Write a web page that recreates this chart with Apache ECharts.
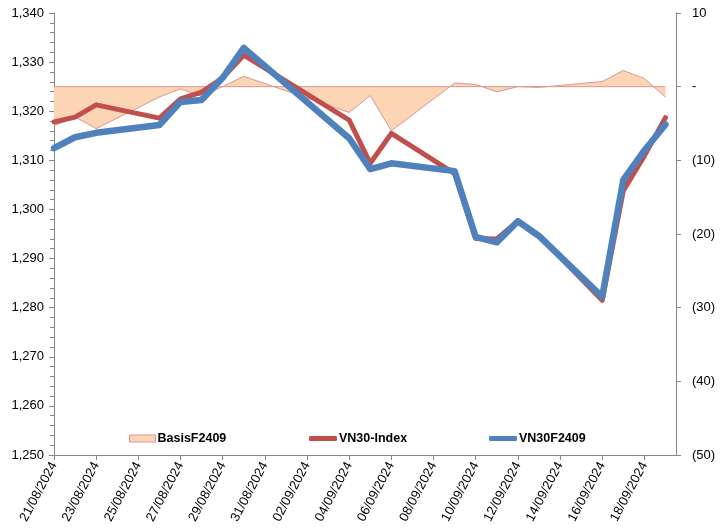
<!DOCTYPE html>
<html>
<head>
<meta charset="utf-8">
<script src="https://cdn.jsdelivr.net/npm/echarts@6/dist/echarts.min.js"></script>
<style>html,body{margin:0;padding:0;background:#fff}#c{width:724px;height:530px}</style>
</head>
<body>
<div id="c"></div>
<script>
var dates = ['21/08/2024','22/08/2024','23/08/2024','26/08/2024','27/08/2024','28/08/2024','29/08/2024','30/08/2024','04/09/2024','05/09/2024','06/09/2024','09/09/2024','10/09/2024','11/09/2024','12/09/2024','13/09/2024','16/09/2024','17/09/2024','18/09/2024','19/09/2024'];
var vn30Index = [1317.8,1318.8,1321.3,1318.6,1322.5,1323.9,1326.8,1331.4,1318.2,1309.4,1315.5,1307.3,1294.1,1294.0,1297.6,1294.7,1281.5,1303.8,1310.9,1318.7];
var vn30F2409 = [1312.5,1314.7,1315.6,1317.2,1321.9,1322.3,1326.8,1332.9,1314.5,1308.2,1309.4,1307.8,1294.4,1293.3,1297.6,1294.6,1282.2,1306.0,1312.0,1317.3];
var basisF2409 = [-5.3,-4.1,-5.7,-1.4,-0.3,-1.3,0.0,1.4,-3.5,-1.2,-6.0,0.5,0.3,-0.7,0.0,-0.1,0.7,2.2,1.1,-1.4];
var xTickLabels = ['21/08/2024','23/08/2024','25/08/2024','27/08/2024','29/08/2024','31/08/2024','02/09/2024','04/09/2024','06/09/2024','08/09/2024','10/09/2024','12/09/2024','14/09/2024','16/09/2024','18/09/2024'];
var leftTicks = [1250,1260,1270,1280,1290,1300,1310,1320,1330,1340];
var rightTicks = [-50,-40,-30,-20,-10,0,10];

function toDay(s){var p=s.split('/');return Date.UTC(+p[2],+p[1]-1,+p[0])/86400000;}
var base = toDay(dates[0]);
function idx(s){return toDay(s)-base;}
function dayLabel(v){
  var d=new Date((base+v)*86400000);
  var dd=('0'+d.getUTCDate()).slice(-2), mm=('0'+(d.getUTCMonth()+1)).slice(-2);
  return dd+'/'+mm+'/'+d.getUTCFullYear();
}
function pair(arr){return dates.map(function(s,i){return [idx(s),arr[i]];});}
var xTickVals = xTickLabels.map(idx);
var lastDay = idx(dates[dates.length-1]);

var font = 'Liberation Sans, Arial, sans-serif';
var axisColor = '#868686';
var chart = echarts.init(document.getElementById('c'), null, {renderer:'canvas'});
function legendOf(name, left, icon, w, h, style){
  return {data:[{name:name, icon:icon, itemStyle:style}], left:left, top:427, itemWidth:w, itemHeight:h, itemGap:0,
    textStyle:{fontFamily:font, fontSize:12.5, fontWeight:'bold', color:'#000', padding:[0,0,0,-3]}, selectedMode:false};
}
chart.setOption({
  animation:false,
  backgroundColor:'#fff',
  grid:{left:54, right:48, top:13, bottom:75},
  legend:[
    legendOf('BasisF2409',124,'rect',26,7,{color:'#FCD5B5',borderColor:'#D99795',borderWidth:1}),
    legendOf('VN30-Index',304,'roundRect',28,5,{color:'#C0504D',borderWidth:0}),
    legendOf('VN30F2409',484,'roundRect',28,5,{color:'#4F81BD',borderWidth:0})
  ],
  xAxis:{type:'value', min:0, max:lastDay+0.5,
    axisLine:{show:true, onZero:false, lineStyle:{color:axisColor}},
    axisTick:{show:true, length:5, customValues:xTickVals, lineStyle:{color:axisColor}},
    axisLabel:{customValues:xTickVals, rotate:62, fontSize:13, fontFamily:font, color:'#000', margin:8,
      formatter:function(v){return dayLabel(v);}},
    splitLine:{show:false}},
  yAxis:[
    {type:'value', min:leftTicks[0], max:leftTicks[leftTicks.length-1], interval:10, position:'left',
      axisLine:{show:true, onZero:false, lineStyle:{color:axisColor}},
      axisTick:{show:true, length:5, lineStyle:{color:axisColor}},
      minorTick:{show:true, splitNumber:5, length:4, lineStyle:{color:axisColor}},
      axisLabel:{fontSize:13, fontFamily:font, color:'#000', margin:10,
        formatter:function(v){return String(v).replace(/\B(?=(\d{3})+(?!\d))/g, ',');}},
      splitLine:{show:false}},
    {type:'value', min:rightTicks[0], max:rightTicks[rightTicks.length-1], interval:10, position:'right',
      axisLine:{show:true, onZero:false, lineStyle:{color:axisColor}},
      axisTick:{show:true, length:5, lineStyle:{color:axisColor}},
      axisLabel:{fontSize:13, fontFamily:font, color:'#000', margin:16,
        formatter:function(v){return v===0?'-':(v<0?'('+Math.abs(v)+')':String(v));}},
      splitLine:{show:false}}
  ],
  series:[
    {name:'BasisF2409', type:'line', yAxisIndex:1, data:pair(basisF2409), showSymbol:false, symbol:'none',
      lineStyle:{color:'#D99795', width:1}, itemStyle:{color:'#FCD5B5'},
      areaStyle:{color:'#FCD5B5', opacity:1, origin:0}, silent:true, z:1},
    {name:'basisZero', type:'line', yAxisIndex:1, data:[[0,0],[lastDay,0]], showSymbol:false, symbol:'none',
      lineStyle:{color:'#D99795', width:1}, silent:true, z:1},
    {name:'VN30-Index', type:'line', yAxisIndex:0, data:pair(vn30Index), showSymbol:false, symbol:'none',
      lineStyle:{color:'#C0504D', width:5, cap:'round', join:'round'}, itemStyle:{color:'#C0504D'}, z:2},
    {name:'VN30F2409', type:'line', yAxisIndex:0, data:pair(vn30F2409), showSymbol:false, symbol:'none',
      lineStyle:{color:'#4F81BD', width:6.5, cap:'round', join:'round'}, itemStyle:{color:'#4F81BD'}, z:3}
  ]
});
</script>
</body>
</html>
